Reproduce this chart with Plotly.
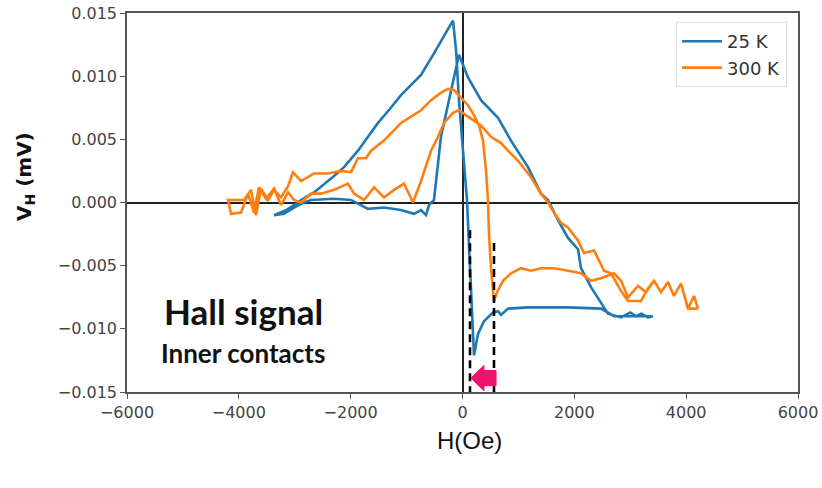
import plotly.graph_objects as go

# Hall voltage loops, H in Oe, V_H in mV
# 25 K: decreasing-field branch (from +H to -H)
h25_down = [3400, 3070, 2710, 2480, 1890, 1170, 815, 690, 635, 546, 384, 277, 206,
            170, 116, 80, 9, -63, -116, -170,
            -250, -385, -510, -742, -1100, -1300, -1511, -1690, -1869, -2119, -2298,
            -2655, -2888, -3013, -3156, -3370]
v25_down = [-0.0090, -0.0090, -0.0090, -0.0084, -0.0083, -0.0083, -0.0084, -0.0089,
            -0.0086, -0.0087, -0.0094, -0.0104, -0.0121,
            -0.0086, -0.0038, 0.0002, 0.0041, 0.0081, 0.0121, 0.0144,
            0.0138, 0.0127, 0.0118, 0.0101, 0.0085, 0.0074, 0.0063, 0.0052, 0.0041,
            0.0028, 0.0021, 0.0008, 0.0002, -0.0002, -0.0006, -0.0010]

# 25 K: increasing-field branch (from -H to +H)
h25_up = [-3370, -3192, -3013, -2888, -2709, -2298, -1994, -1690, -1404, -1100,
          -867, -742, -653, -599, -510, -385, -63, 98, 331, 635, 867, 1171, 1404,
          1529, 1708, 1887, 2065, 2119, 2298, 2477, 2602, 2835, 3000, 3100, 3200,
          3317, 3406]
v25_up = [-0.0010, -0.0009, -0.0004, -0.0001, 0.0002, 0.0003, 0.0002, -0.0005,
          -0.0004, -0.0006, -0.0009, -0.0006, -0.0010, -0.0002, 0.0002, 0.0052,
          0.0117, 0.0099, 0.0081, 0.0067, 0.0049, 0.0028, 0.0007, 0.0002, -0.0014,
          -0.0028, -0.0037, -0.0052, -0.0067, -0.0080, -0.0088, -0.0091, -0.0087,
          -0.0090, -0.0088, -0.0091, -0.0090]

# 300 K: decreasing-field branch
h300_down = [4211, 4140, 4033, 3907, 3782, 3675, 3550, 3425, 3282, 3139, 2960, 2835,
             2709, 2477, 2298, 2119, 1887, 1636, 1404, 1225, 1046, 867, 724, 617,
             563, 510, 474, 456, 420, 367, 295, 206, 98, -27, -152, -259, -384,
             -563, -742, -1100, -1404, -1636, -1726, -1869, -1994, -2173, -2405,
             -2655, -2888, -3031, -3120, -3246, -3370, -3478, -3603, -3693, -3782,
             -3907, -4050, -4193]
v300_down = [-0.0084, -0.0074, -0.0084, -0.0064, -0.0074, -0.0063, -0.0071, -0.0062,
             -0.0071, -0.0066, -0.0075, -0.0062, -0.0056, -0.0060, -0.0062, -0.0056,
             -0.0054, -0.0052, -0.0052, -0.0054, -0.0052, -0.0056, -0.0062, -0.0071,
             -0.0078, -0.0052, -0.0025, 0.0002, 0.0025, 0.0049, 0.0061, 0.0069,
             0.0077, 0.0083, 0.0089, 0.0090, 0.0087, 0.0081, 0.0073, 0.0063, 0.0049,
             0.0041, 0.0035, 0.0035, 0.0024, 0.0025, 0.0023, 0.0023, 0.0017, 0.0024,
             0.0013, 0.0004, 0.0010, 0.0002, 0.0011, -0.0010, 0.0010, 0.0002,
             0.0002, 0.0002]

# 300 K: increasing-field branch
h300_up = [-4193, -4140, -3961, -3836, -3729, -3640, -3514, -3370, -3246, -3120,
           -3013, -2888, -2709, -2531, -2298, -2048, -1941, -1761, -1583, -1404,
           -1225, -1046, -885, -742, -563, -438, -331, -170, -63, 98, 331, 510,
           689, 814, 993, 1225, 1404, 1529, 1636, 1761, 1887, 2065, 2173, 2352,
           2531, 2656, 2835, 2960, 3192, 3317, 3425, 3550, 3675, 3782, 3907, 4033,
           4211]
v300_up = [0.0002, -0.0009, -0.0008, 0.0007, -0.0008, 0.0012, 0.0003, 0.0011,
           -0.0002, 0.0008, 0.0002, 0.0000, 0.0007, 0.0007, 0.0010, 0.0015, 0.0007,
           0.0002, 0.0012, 0.0004, 0.0010, 0.0015, 0.0000, 0.0017, 0.0041, 0.0052,
           0.0063, 0.0071, 0.0073, 0.0068, 0.0061, 0.0052, 0.0047, 0.0041, 0.0033,
           0.0020, 0.0007, 0.0000, -0.0008, -0.0016, -0.0020, -0.0030, -0.0040,
           -0.0038, -0.0054, -0.0056, -0.0070, -0.0078, -0.0078, -0.0068, -0.0062,
           -0.0071, -0.0063, -0.0074, -0.0064, -0.0084, -0.0084]

# Switching fields marked with dashed guides
switch_fields = [134, 563]
switch_tops = [-0.0022, -0.0032]
guide_bottom = -0.0150

# Arrow between the switching fields
arrow_tip = 150
arrow_neck = 384
arrow_tail = 600
arrow_mid = -0.0139
arrow_head_half = 0.0010
arrow_body_half = 0.0006

x_ticks = [-6000, -4000, -2000, 0, 2000, 4000, 6000]
y_ticks = [-0.015, -0.010, -0.005, 0.000, 0.005, 0.010, 0.015]

blue = "#1f77b4"
orange = "#ff7f0e"

# plot-area geometry in pixels
W, H = 822, 488
ML, MR, MT, MB = 127, 24, 13, 96
PW, PH = W - ML - MR, H - MT - MB


def px_x(px):
    return (px - ML) / PW


def px_y(py):
    return 1 - (py - MT) / PH


fig = go.Figure()

fig.add_trace(go.Scatter(x=h25_down + h25_up, y=v25_down + v25_up, mode="lines",
                         name="25 K", line=dict(color=blue, width=2.6)))
fig.add_trace(go.Scatter(x=h300_down + h300_up, y=v300_down + v300_up, mode="lines",
                         name="300 K", line=dict(color=orange, width=2.6)))

for hx, top in zip(switch_fields, switch_tops):
    fig.add_trace(go.Scatter(x=[hx, hx], y=[top, guide_bottom], mode="lines",
                             showlegend=False, hoverinfo="skip",
                             line=dict(color="black", width=2.6, dash="8px,5px")))

ax = [arrow_tip, arrow_neck, arrow_neck, arrow_tail, arrow_tail, arrow_neck, arrow_neck]
ay = [arrow_mid, arrow_mid + arrow_head_half, arrow_mid + arrow_body_half,
      arrow_mid + arrow_body_half, arrow_mid - arrow_body_half,
      arrow_mid - arrow_body_half, arrow_mid - arrow_head_half]
path = "M " + " L ".join(f"{x},{y}" for x, y in zip(ax, ay)) + " Z"
fig.add_shape(type="path", path=path, xref="x", yref="y",
              fillcolor="#f0136d", line=dict(color="#f0136d", width=1))

fig.add_annotation(x=-3925, y=-0.0086, xref="x", yref="y", text="<b>Hall signal</b>",
                   showarrow=False, xanchor="center", yanchor="middle",
                   font=dict(family="Lato", size=35, color="#111"))
fig.add_annotation(x=-3925, y=-0.0119, xref="x", yref="y", text="<b>Inner contacts</b>",
                   showarrow=False, xanchor="center", yanchor="middle",
                   font=dict(family="Lato", size=26, color="#111"))

fig.add_annotation(x=px_x(25), y=px_y(177), xref="paper", yref="paper",
                   text="<b>V<sub>H</sub> (mV)</b>", textangle=-90, showarrow=False,
                   xanchor="center", yanchor="middle",
                   font=dict(family="DejaVu Sans", size=20, color="#111"))
fig.add_annotation(x=px_x(470), y=px_y(440), xref="paper", yref="paper",
                   text="H(Oe)", showarrow=False, xanchor="center", yanchor="middle",
                   font=dict(family="Liberation Sans", size=24, color="#111"))

axis_common = dict(showline=True, mirror=True, linecolor="#555", linewidth=1.5,
                   ticks="outside", ticklen=5, tickcolor="#555", tickwidth=1.2,
                   showgrid=False, zeroline=True, zerolinecolor="#222",
                   zerolinewidth=2, automargin=False,
                   tickfont=dict(family="DejaVu Sans", size=16, color="#444"))

fig.update_layout(
    width=W, height=H,
    margin=dict(l=ML, r=MR, t=MT, b=MB, autoexpand=False),
    paper_bgcolor="white", plot_bgcolor="white",
    xaxis=dict(range=[-6000, 6000], tickvals=x_ticks, **axis_common),
    yaxis=dict(range=[-0.015, 0.015], tickvals=y_ticks, tickformat=".3f",
               **axis_common),
    legend=dict(x=px_x(787), y=px_y(22), xanchor="right", yanchor="top",
                bgcolor="white", bordercolor="#ddd", borderwidth=1,
                itemwidth=40,
                font=dict(family="DejaVu Sans", size=18, color="#333")),
    showlegend=True,
)

fig.write_html("out.html")
